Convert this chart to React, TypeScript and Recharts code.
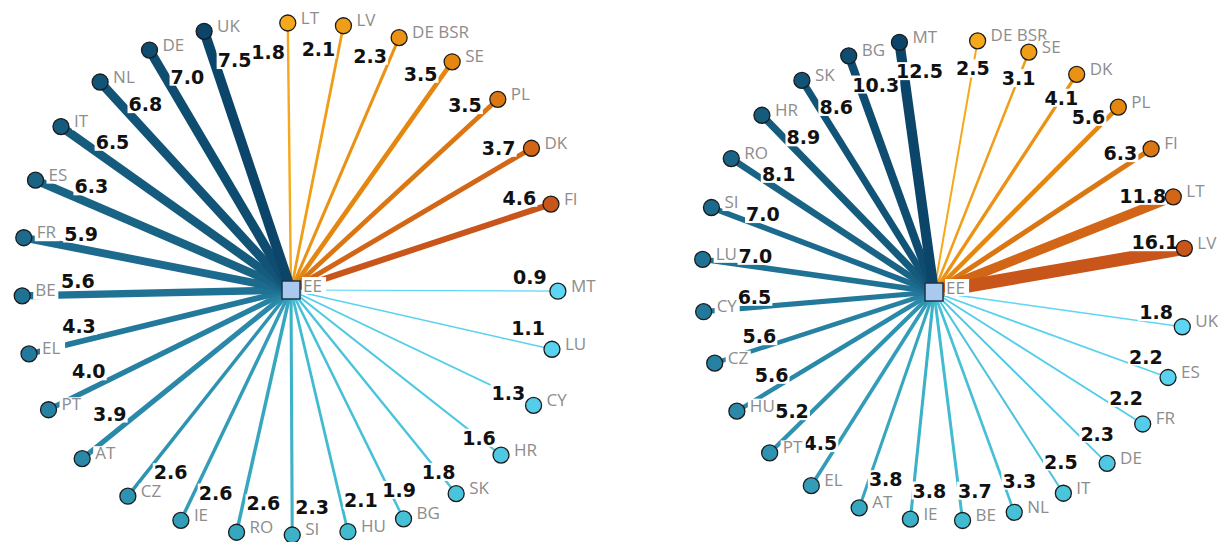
import React from 'react';
import { ScatterChart, Scatter, XAxis, YAxis } from 'recharts';

// hub country
const hubName = 'EE';

// left panel
const leftOrangeNames = ['LT', 'LV', 'DE BSR', 'SE', 'PL', 'DK', 'FI'];
const leftOrangeValues = [1.8, 2.1, 2.3, 3.5, 3.5, 3.7, 4.6];
const leftBlueNames = ['MT', 'LU', 'CY', 'HR', 'SK', 'BG', 'HU', 'SI', 'RO', 'IE', 'CZ', 'AT', 'PT', 'EL', 'BE', 'FR', 'ES', 'IT', 'NL', 'DE', 'UK'];
const leftBlueValues = [0.9, 1.1, 1.3, 1.6, 1.8, 1.9, 2.1, 2.3, 2.6, 2.6, 2.6, 3.9, 4.0, 4.3, 5.6, 5.9, 6.3, 6.5, 6.8, 7.0, 7.5];

// right panel
const rightOrangeNames = ['DE BSR', 'SE', 'DK', 'PL', 'FI', 'LT', 'LV'];
const rightOrangeValues = [2.5, 3.1, 4.1, 5.6, 6.3, 11.8, 16.1];
const rightBlueNames = ['UK', 'ES', 'FR', 'DE', 'IT', 'NL', 'BE', 'IE', 'AT', 'EL', 'PT', 'HU', 'CZ', 'CY', 'LU', 'SI', 'RO', 'HR', 'SK', 'BG', 'MT'];
const rightBlueValues = [1.8, 2.2, 2.2, 2.3, 2.5, 3.3, 3.7, 3.8, 3.8, 4.5, 5.2, 5.6, 5.6, 6.5, 7.0, 7.0, 8.1, 8.9, 8.6, 10.3, 12.5];

const PANEL_W = 609;
const PANEL_H = 542;
const VALUE_FONT = '"DejaVu Sans", Verdana, sans-serif';
const NAME_FONT = '"Open Sans", "Noto Sans", sans-serif';
const VALUE_SIZE = 19;
const NAME_SIZE = 17;

const orangeStops: [number, string][] = [[0, '#f6a81d'], [0.5, '#e5870f'], [1, '#c8561a']];
const blueStops: [number, string][] = [[0, '#5dd6f5'], [0.3, '#40bbd0'], [0.55, '#2a88a9'], [1, '#0b4569']];

function hexToRgb(h: string) {
  const n = parseInt(h.slice(1), 16);
  return [(n >> 16) & 255, (n >> 8) & 255, n & 255];
}

function mix(stops: [number, string][], t: number) {
  for (let i = 1; i < stops.length; i++) {
    if (t <= stops[i][0] || i === stops.length - 1) {
      const [t0, c0] = stops[i - 1];
      const [t1, c1] = stops[i];
      const k = Math.min(1, Math.max(0, (t - t0) / (t1 - t0)));
      const a = hexToRgb(c0);
      const b = hexToRgb(c1);
      const c = a.map((v, j) => Math.round(v + (b[j] - v) * k));
      return `rgb(${c[0]},${c[1]},${c[2]})`;
    }
  }
  return stops[0][1];
}

// rough text widths, just for the white boxes behind labels
function valueWidth(text: string) {
  let w = 0;
  for (const ch of text) w += ch === '.' ? 0.38 : 0.7;
  return w * VALUE_SIZE;
}

function nameWidth(text: string) {
  let w = 0;
  for (const ch of text) w += ch === ' ' ? 0.26 : ch === 'I' ? 0.3 : 0.62;
  return w * NAME_SIZE;
}

type Panel = {
  orangeNames: string[];
  orangeValues: number[];
  blueNames: string[];
  blueValues: number[];
  hub: [number, number];
  ring: [number, number];
  rx: number;
  ry: number;
  power: number;
  start: number;
  leftExtra: number;
  sideBase: number;
  flip: [number, number];
  zero: [number, number];
  maxWidth: number;
};

const leftPanel: Panel = {
  orangeNames: leftOrangeNames,
  orangeValues: leftOrangeValues,
  blueNames: leftBlueNames,
  blueValues: leftBlueValues,
  hub: [291, 290],
  ring: [290, 279],
  rx: 268,
  ry: 256,
  power: 2.3,
  start: 90.5,
  leftExtra: 28,
  sideBase: 14,
  flip: [-136, 100],
  zero: [-62, -25],
  maxWidth: 10,
};

const rightPanel: Panel = {
  orangeNames: rightOrangeNames,
  orangeValues: rightOrangeValues,
  blueNames: rightBlueNames,
  blueValues: rightBlueValues,
  hub: [325, 292],
  ring: [335, 280],
  rx: 242,
  ry: 241,
  power: 2.1,
  start: 82,
  leftExtra: 24,
  sideBase: 10,
  flip: [-110, 80],
  zero: [50, 88],
  maxWidth: 13,
};

function buildSpokes(p: Panel) {
  const nO = p.orangeNames.length;
  const nB = p.blueNames.length;
  const step = 360 / (nO - 1 + nB - 1 + 3);
  const items: { name: string; value: number; angle: number; color: string }[] = [];
  p.orangeNames.forEach((name, i) => {
    items.push({ name, value: p.orangeValues[i], angle: p.start - i * step, color: mix(orangeStops, i / (nO - 1)) });
  });
  const blueStart = p.start - (nO - 1) * step - 1.5 * step;
  p.blueNames.forEach((name, j) => {
    items.push({ name, value: p.blueValues[j], angle: blueStart - j * step, color: mix(blueStops, j / (nB - 1)) });
  });
  const maxV = Math.max(...items.map((d) => d.value));
  const [hx, hy] = p.hub;
  return items.map((it) => {
    const t = (it.angle * Math.PI) / 180;
    const c = Math.cos(t);
    const s = Math.sin(t);
    const r = Math.pow(Math.pow(Math.abs(c) / p.rx, p.power) + Math.pow(Math.abs(s) / p.ry, p.power), -1 / p.power);
    const nx = p.ring[0] + r * c;
    const ny = p.ring[1] - r * s;
    const dx = nx - hx;
    const dy = ny - hy;
    const len = Math.hypot(dx, dy);
    const ux = dx / len;
    const uy = dy / len;
    const theta = Math.atan2(-dy, dx);
    const deg = (theta * 180) / Math.PI;
    const sign = deg > p.flip[0] && deg < p.flip[1] ? 1 : -1;
    // labels sit on the spoke inside the zero zone, easing out over a few degrees
    const out = Math.max(p.zero[0] - deg, deg - p.zero[1]);
    const ease = Math.min(1, Math.max(0, out / 4));
    const along = 28 + p.leftExtra * Math.max(0, -Math.cos(theta));
    const side = (p.sideBase + 6 * Math.abs(Math.sin(theta))) * ease * sign;
    return {
      ...it,
      nx,
      ny,
      lx: nx - ux * along + side * uy,
      ly: ny - uy * along - side * ux,
      width: Math.max(1.2, (it.value / maxV) * p.maxWidth),
    };
  });
}

const Empty = () => <g />;

const NodeMark = (props: any) => {
  const { cx, cy, payload } = props;
  const w = nameWidth(payload.name);
  return (
    <g>
      <circle cx={cx} cy={cy} r={8} fill={payload.color} stroke="#1c1c1c" strokeWidth={1.3} />
      <rect x={cx + 11} y={cy - 12.5} width={w + 4} height={16} fill="#fff" />
      <text x={cx + 13} y={cy + 0.5} fontFamily={NAME_FONT} fontSize={NAME_SIZE} fill="#8d8d8d">
        {payload.name}
      </text>
    </g>
  );
};

const ValueMark = (props: any) => {
  const { cx, cy, payload } = props;
  const label = payload.value.toFixed(1);
  const w = valueWidth(label);
  return (
    <g>
      <rect x={cx - w / 2 - 1} y={cy - 9} width={w + 2} height={18} fill="#fff" />
      <text x={cx} y={cy + 7} textAnchor="middle" fontFamily={VALUE_FONT} fontWeight="bold" fontSize={VALUE_SIZE} fill="#111">
        {label}
      </text>
    </g>
  );
};

const HubMark = (props: any) => {
  const { cx, cy } = props;
  const w = nameWidth(hubName);
  return (
    <g>
      <rect x={cx - 9} y={cy - 9} width={18} height={18} fill="#a9caee" stroke="#1d3447" strokeWidth={1.5} />
      <rect x={cx + 11} y={cy - 13} width={w + 3} height={17} fill="#fff" />
      <text x={cx + 12} y={cy + 2} fontFamily={NAME_FONT} fontSize={NAME_SIZE} fill="#8d8d8d">
        {hubName}
      </text>
    </g>
  );
};

function SpokeChart({ panel }: { panel: Panel }) {
  const spokes = buildSpokes(panel);
  const [hx, hy] = panel.hub;
  const nodes = spokes.map((s) => ({ x: s.nx, y: s.ny, name: s.name, color: s.color }));
  const labels = spokes.map((s) => ({ x: s.lx, y: s.ly, value: s.value }));
  return (
    <ScatterChart width={PANEL_W} height={PANEL_H} margin={{ top: 0, right: 0, bottom: 0, left: 0 }}>
      <XAxis type="number" dataKey="x" domain={[0, PANEL_W]} allowDataOverflow hide />
      <YAxis type="number" dataKey="y" domain={[0, PANEL_H]} allowDataOverflow reversed hide width={0} />
      {spokes.map((s) => (
        <Scatter
          key={s.name}
          data={[
            { x: hx, y: hy },
            { x: s.nx, y: s.ny },
          ]}
          line={{ stroke: s.color, strokeWidth: s.width }}
          shape={Empty}
          isAnimationActive={false}
        />
      ))}
      <Scatter data={[{ x: hx, y: hy }]} shape={HubMark} isAnimationActive={false} />
      <Scatter data={labels} shape={ValueMark} isAnimationActive={false} />
      <Scatter data={nodes} shape={NodeMark} isAnimationActive={false} />
    </ScatterChart>
  );
}

export default function App() {
  return (
    <div style={{ position: 'absolute', left: 0, top: 0, width: 1218, height: 542, display: 'flex', background: '#fff' }}>
      <SpokeChart panel={leftPanel} />
      <SpokeChart panel={rightPanel} />
    </div>
  );
}
